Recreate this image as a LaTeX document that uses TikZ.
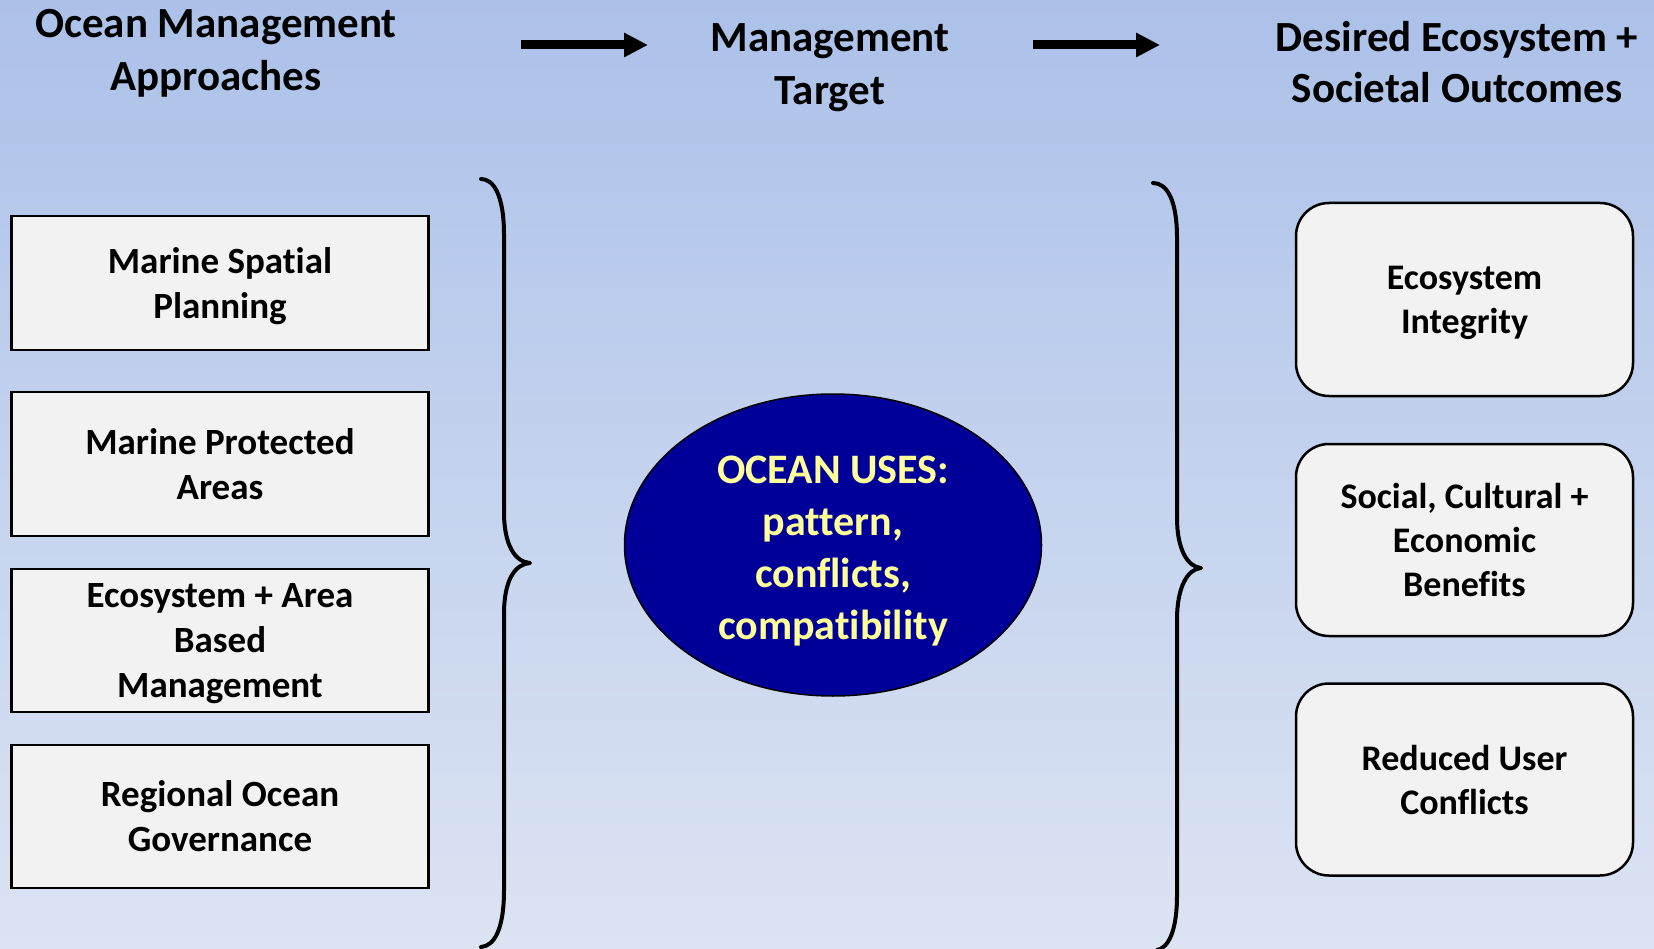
\documentclass[tikz,border=0pt]{standalone}
\usepackage{fontspec}
\setmainfont{Carlito}[Ligatures=NoCommon]
\usetikzlibrary{arrows.meta,shapes.geometric}
\definecolor{bgtop}{RGB}{172,193,233}
\definecolor{bgbot}{RGB}{220,228,243}
\definecolor{boxfill}{RGB}{242,242,242}
\definecolor{oceannavy}{RGB}{0,0,153}
\definecolor{paleyellow}{RGB}{255,255,153}
\begin{document}
% The last line of every label is smashed, so that the text is centred from
% the top of its first line to the baseline of its last one.
\begin{tikzpicture}[x=1pt,y=-1pt,
  header/.style={font=\bfseries\fontsize{43}{53}\selectfont, align=center, inner sep=0pt},
  approach/.style={draw=black, line width=2.5pt, fill=boxfill, minimum width=417pt,
    align=center, inner sep=0pt, font=\bfseries\fontsize{37}{45}\selectfont},
  outcome/.style={draw=black, line width=2.5pt, fill=boxfill, rounded corners=33pt,
    minimum width=337pt, minimum height=192pt, align=center, inner sep=0pt,
    font=\bfseries\fontsize{36}{44}\selectfont},
  target/.style={ellipse, draw=black, line width=1.5pt, fill=oceannavy, text=paleyellow,
    minimum width=417pt, minimum height=302pt, align=center, inner sep=0pt,
    font=\bfseries\fontsize{42}{52}\selectfont},
  flow/.style={line width=9pt, -{Triangle[length=24pt,width=23pt]}},
  brace/.style={line width=4pt, line cap=round, line join=round}
]
\useasboundingbox (0,0) rectangle (1654,949);
% background
\shade[top color=bgtop, bottom color=bgbot] (0,0) rectangle (1654,949);

% column headings
\node[header] (hleft) at (216,50) {Ocean Management\\\smash{Approaches}};
\node[header] (hmid) at (830,64) {Management\\\smash{Target}};
\node[header, font=\bfseries\fontsize{43}{50.5}\selectfont] (hright) at (1457,62)
  {Desired Ecosystem +\\\smash{Societal Outcomes}};

% arrows between the headings
\coordinate (a1s) at (521,45);
\coordinate (a1e) at (648,45);
\coordinate (a2s) at (1033,45);
\coordinate (a2e) at (1160,45);
\draw[flow] (a1s) -- (a1e);
\draw[flow] (a2s) -- (a2e);

% management approaches
\node[approach, minimum height=134pt] (msp) at (220,283) {Marine Spatial\\\smash{Planning}};
\node[approach, minimum height=144pt] (mpa) at (220,464) {Marine Protected\\\smash{Areas}};
\node[approach, minimum height=143pt] (ebm) at (220,640.5) {Ecosystem + Area\\Based\\\smash{Management}};
\node[approach, minimum height=143pt] (rog) at (220,816.5) {Regional Ocean\\\smash{Governance}};

% management target
\node[target] (uses) at (833,545) {};
\node[target, draw=none, fill=none, yshift=-2.5pt] (uses-text) at (uses.center)
  {OCEAN USES:\\pattern,\\conflicts,\\\smash{compatibility}};

% outcomes
\node[outcome, minimum height=193pt] (integrity) at (1464.5,299.5) {Ecosystem\\\smash{Integrity}};
\node[outcome] (benefits) at (1464.5,540) {Social, Cultural +\\Economic\\\smash{Benefits}};
\node[outcome] (reduced) at (1464.5,779.5) {Reduced User\\\smash{Conflicts}};

% left brace
\draw[brace] (481,179) .. controls (494,179) and (504,196) .. (504,235)
  -- (504,512) .. controls (504,545) and (515,562) .. (530,563)
  .. controls (515,564) and (504,580) .. (504,614)
  -- (504,890) .. controls (504,930) and (494,946) .. (481,947);

% right brace
\draw[brace] (1153,183) .. controls (1167,183) and (1177,200) .. (1177,238)
  -- (1177,518) .. controls (1177,550) and (1188,567) .. (1201,568)
  .. controls (1188,569) and (1177,586) .. (1177,620)
  -- (1177,895) .. controls (1177,932) and (1168,948) .. (1157,950);
\end{tikzpicture}
\end{document}
